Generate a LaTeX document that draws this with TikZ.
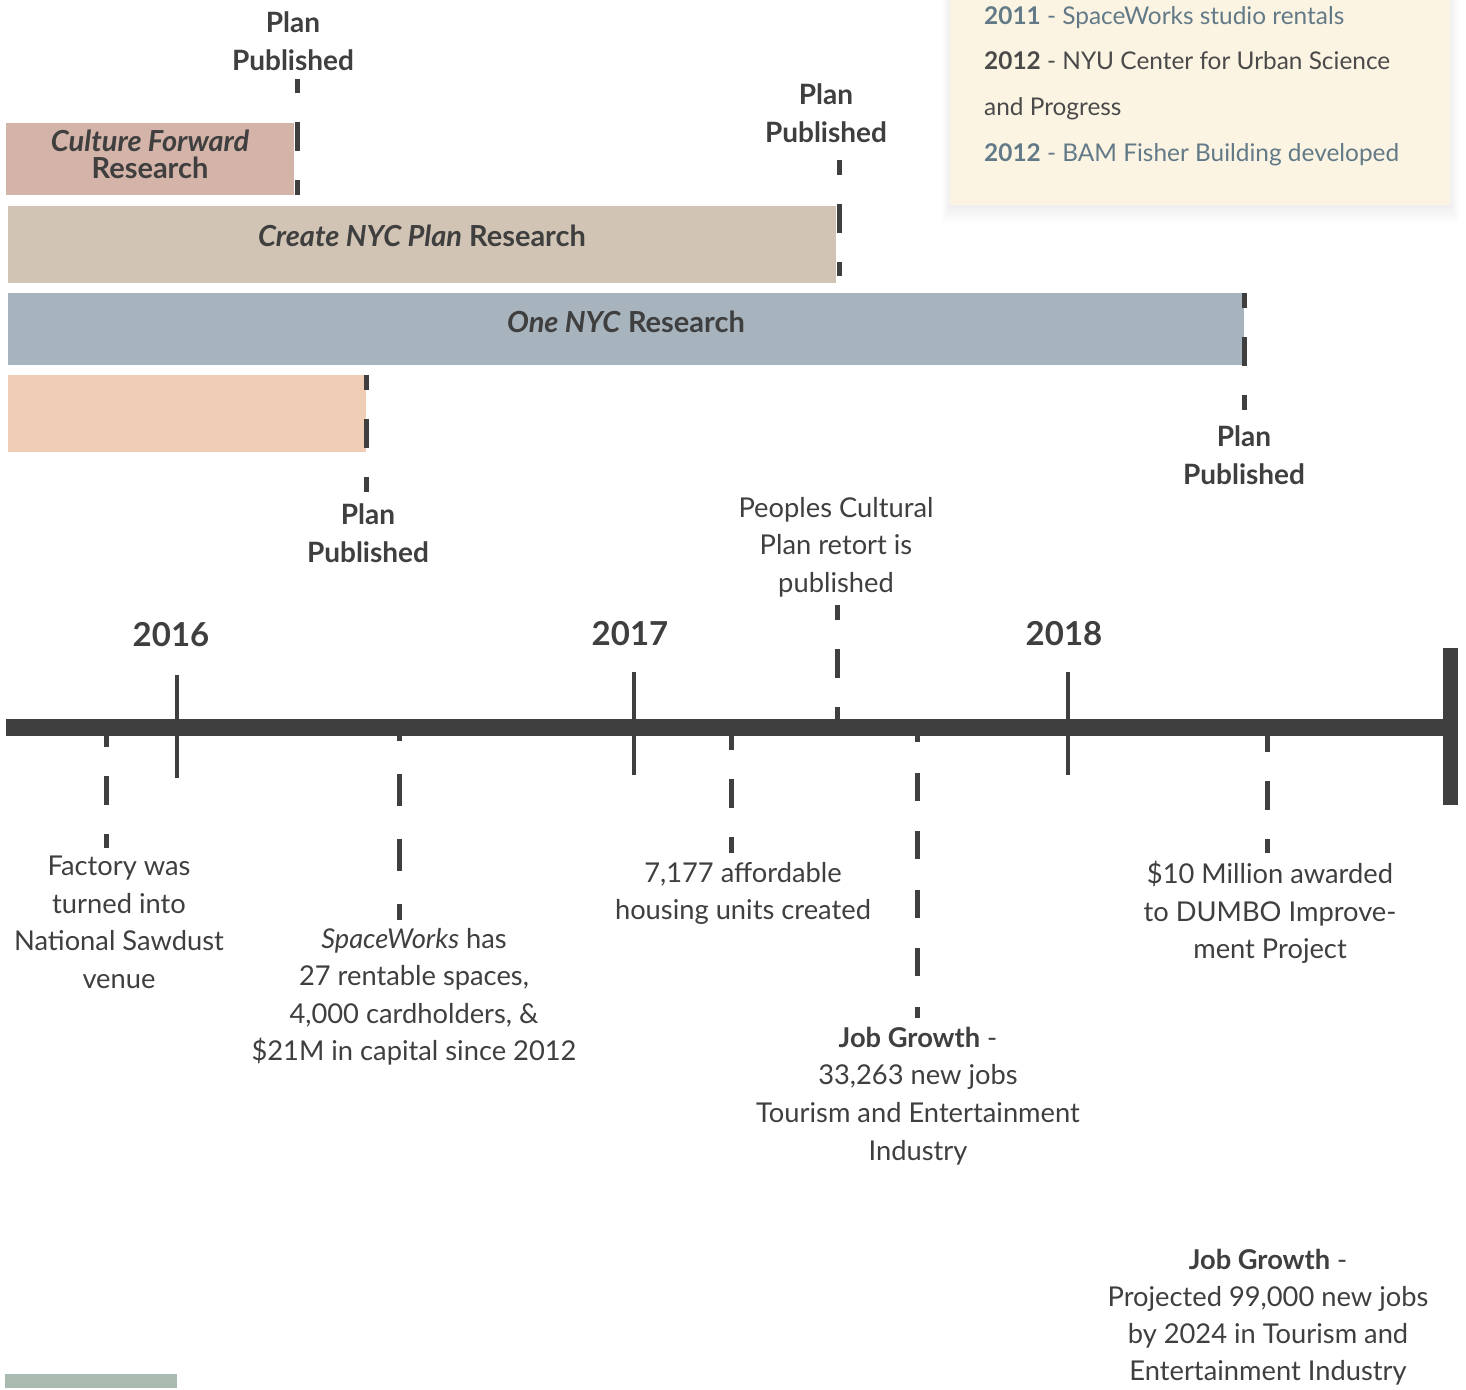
\documentclass[tikz,border=0pt]{standalone}
\usepackage{fontspec}
\setmainfont{Lato}
\usetikzlibrary{positioning, calc}
\definecolor{Ink}{HTML}{3F3F3F}
\definecolor{InkSoft}{HTML}{4A4A4A}
\definecolor{Slate}{HTML}{627A87}
\definecolor{Cream}{HTML}{FCF4E3}
\definecolor{Rose}{HTML}{D4B3A8}
\definecolor{Sand}{HTML}{D1C4B4}
\definecolor{Steel}{HTML}{A7B4BD}
\definecolor{Peach}{HTML}{F0CEB6}
\definecolor{Sage}{HTML}{A9BBB0}
\tikzset{
    bar/.style={rectangle, inner sep=0pt, outer sep=0pt, anchor=north west},
    barlabel/.style={text=Ink, align=center, inner sep=0pt, font=\fontsize{29}{27}\selectfont\bfseries},
    planlabel/.style={text=Ink, align=center, inner sep=0pt, font=\fontsize{28}{38}\selectfont\bfseries},
    eventlabel/.style={text=Ink, align=center, inner sep=0pt, font=\fontsize{27.3}{37.5}\selectfont},
    yearlabel/.style={text=Ink, inner sep=0pt, anchor=south, font=\fontsize{33}{33}\selectfont\bfseries},
    markline/.style={Ink, line width=5pt, dash pattern=on 29pt off 29pt},
    yeartick/.style={Ink, line width=4pt},
}

\begin{document}
\begin{tikzpicture}[x=1pt, y=-1pt]
    \path[use as bounding box, fill=white] (0,0) rectangle (1466,1389);

    % Legend: early projects
    \foreach \i in {1,...,16}
        \fill[black, opacity=0.005] (950-0.5*\i,-10) rectangle (1450+0.6*\i,206+1.1*\i);
    \node[bar, fill=Cream, minimum width=500pt, minimum height=215pt] (legend) at (950,-10) {};
    \node[anchor=north west, inner sep=0pt, align=left, font=\fontsize{24.4}{45.7}\selectfont] (legend-text) at (984,6)
        {\textcolor{Slate}{\textbf{2011} - SpaceWorks studio rentals}\\
         \textcolor{InkSoft}{\textbf{2012} - NYU Center for Urban Science}\\
         \textcolor{InkSoft}{and Progress}\\
         \textcolor{Slate}{\textbf{2012} - BAM Fisher Building developed}};

    % Research bars
    \node[bar, fill=Rose, minimum width=288pt, minimum height=72pt] (cf) at (6,123) {};
    \node[bar, fill=Sand, minimum width=828pt, minimum height=77pt] (cnyc) at (8,206) {};
    \node[bar, fill=Steel, minimum width=1236pt, minimum height=72pt] (onyc) at (8,293) {};
    \node[bar, fill=Peach, minimum width=358pt, minimum height=77pt] (peach) at (8,375) {};
    \node[barlabel] (cf-text) at ([yshift=5pt]cf.center) {\textit{Culture Forward}\\Research};
    \node[barlabel] (cnyc-text) at ([yshift=9pt]cnyc.center) {\textit{Create NYC Plan} Research};
    \node[barlabel] (onyc-text) at ([yshift=7pt]onyc.center) {\textit{One NYC} Research};

    % Plan published markers
    \node[planlabel, anchor=south] (pp1) at (293,71) {Plan\\Published};
    \node[planlabel, anchor=south] (pp2) at (826,143) {Plan\\Published};
    \node[planlabel, anchor=north] (pp3) at (1244,425) {Plan\\Published};
    \node[planlabel, anchor=north] (pp4) at (368,503) {Plan\\Published};
    \coordinate (pp1-a) at (297,79);   \coordinate (pp1-b) at (297,195);
    \coordinate (pp2-a) at (839,160);  \coordinate (pp2-b) at (839,276);
    \coordinate (pp3-a) at (1244,293); \coordinate (pp3-b) at (1244,410);
    \coordinate (pp4-a) at (366,375);  \coordinate (pp4-b) at (366,492);
    \draw[markline, dash phase=15pt] (pp1-a) -- (pp1-b);
    \draw[markline, dash phase=14pt] (pp2-a) -- (pp2-b);
    \draw[markline, dash phase=14pt] (pp3-a) -- (pp3-b);
    \draw[markline, dash phase=14pt] (pp4-a) -- (pp4-b);

    % Timeline axis
    \node[bar, fill=Ink, minimum width=1437pt, minimum height=17pt] (axis) at (6,719) {};
    \node[bar, fill=Ink, minimum width=15pt, minimum height=157pt] (axis-end) at (1443,648) {};
    \draw[yeartick] (177,675) -- (177,778);
    \draw[yeartick] (634,672) -- (634,775);
    \draw[yeartick] (1068,672) -- (1068,775);
    \node[yearlabel] (y2016) at (171,647) {2016};
    \node[yearlabel] (y2017) at (630,646) {2017};
    \node[yearlabel] (y2018) at (1064,646) {2018};

    % Events above the axis
    \node[eventlabel, anchor=south] (peoples) at (836,597) {Peoples Cultural\\Plan retort is\\published};
    \coordinate (peoples-a) at (837,605);
    \draw[markline, dash phase=14pt] (peoples-a) -- (axis.north -| peoples-a);

    % Events below the axis
    \node[eventlabel, anchor=north] (factory) at (119,856) {Factory was\\turned into\\National Sawdust\\venue};
    \node[eventlabel, anchor=north] (spaceworks) at (414,928) {\textit{SpaceWorks} has\\27 rentable spaces,\\4,000 cardholders, \&\\\$21M in capital since 2012};
    \node[eventlabel, anchor=north] (housing) at (743,862) {7,177 affordable\\housing units created};
    \node[eventlabel, anchor=north] (jobs) at (918,1027) {\textbf{Job Growth} -\\33,263 new jobs\\Tourism and Entertainment\\Industry};
    \node[eventlabel, anchor=north] (dumbo) at (1270,861) {\$10 Million awarded\\to DUMBO Improve-\\ment Project};
    \node[eventlabel, anchor=north, font=\fontsize{27.3}{37}\selectfont] (projection) at (1268,1249) {\textbf{Job Growth} -\\Projected 99,000 new jobs\\by 2024 in Tourism and\\Entertainment Industry};
    \coordinate (factory-b) at (106,848);
    \coordinate (spaceworks-b) at (399,920);
    \coordinate (housing-b) at (731,853);
    \coordinate (jobs-b) at (917,1018);
    \coordinate (dumbo-b) at (1267,853);
    \draw[markline, dash phase=18pt] (axis.south -| factory-b) -- (factory-b);
    \draw[markline, dash pattern=on 32pt off 33pt, dash phase=27pt] (axis.south -| spaceworks-b) -- (spaceworks-b);
    \draw[markline, dash phase=15pt] (axis.south -| housing-b) -- (housing-b);
    \draw[markline, dash pattern=on 28pt off 30.5pt, dash phase=22pt] (axis.south -| jobs-b) -- (jobs-b);
    \draw[markline, dash phase=13pt] (axis.south -| dumbo-b) -- (dumbo-b);

    % Key swatch
    \node[bar, fill=Sage, minimum width=172pt, minimum height=14pt] (swatch) at (5,1374) {};
\end{tikzpicture}
\end{document}
